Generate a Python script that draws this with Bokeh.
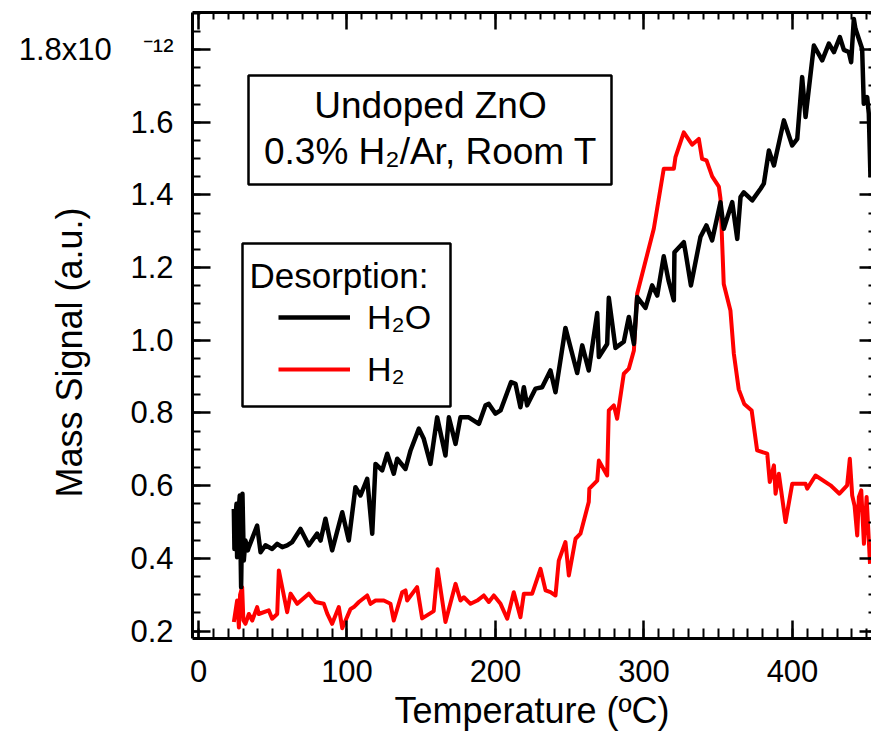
from bokeh.embed import file_html
from bokeh.models import (BoxAnnotation, CustomJSTickFormatter, CustomLabelingPolicy,
                          Label, Legend, LegendItem, LinearAxis, Range1d,
                          SingleIntervalTicker)
from bokeh.plotting import figure
from bokeh.resources import INLINE

# Desorption traces (temperature in degC, mass signal in units of 1e-12)
temp_h2o = [23.8, 24.2, 25.0, 25.6, 26.0, 27.0, 27.8, 28.7, 29.6, 30.5, 31.6, 33.2, 33.9,
            39.5, 41.8, 45.1, 49.6, 53.0, 56.4, 59.7, 63.1, 68.7, 74.3, 79.9, 82.2, 85.5,
            90.0, 96.8, 101.2, 105.7, 109.1, 113.6, 117.0, 119.2, 123.7, 127.1, 131.5,
            133.8, 139.4, 142.8, 148.4, 151.7, 156.2, 160.7, 166.3, 168.6, 173.1, 176.4,
            182.0, 188.8, 193.3, 195.5, 200.0, 203.4, 210.5, 213.5, 216.8, 219.1, 221.3,
            226.9, 231.4, 237.0, 240.4, 247.1, 255.0, 258.4, 262.8, 268.5, 269.6, 275.2,
            276.3, 280.8, 286.4, 289.8, 293.2, 295.4, 301.0, 305.5, 308.9, 313.3, 316.5,
            320.1, 320.5, 326.8, 328.0, 331.6, 338.0, 342.0, 345.9, 351.5, 353.7, 359.4,
            362.8, 365.0, 367.2, 372.9, 378.5, 380.7, 384.1, 387.5, 394.2, 399.8, 403.2,
            406.5, 408.8, 414.4, 420.0, 424.5, 427.9, 431.9, 434.6, 437.9, 439.5, 441.3,
            442.4, 446.9, 448.0, 450.3, 451.4, 452.5]
signal_h2o = [0.536, 0.426, 0.52, 0.550, 0.403, 0.53, 0.573, 0.321, 0.578, 0.394, 0.449, 0.422, 0.431,
              0.490, 0.417, 0.436, 0.426, 0.440, 0.431, 0.436, 0.445, 0.481, 0.436, 0.468, 0.449, 0.509,
              0.422, 0.527, 0.449, 0.596, 0.573, 0.619, 0.468, 0.660, 0.642, 0.688, 0.633,
              0.674, 0.646, 0.697, 0.757, 0.729, 0.660, 0.788, 0.683, 0.788, 0.715, 0.788,
              0.788, 0.770, 0.821, 0.825, 0.798, 0.807, 0.885, 0.880, 0.816, 0.871, 0.821,
              0.867, 0.871, 0.917, 0.857, 1.034, 0.910, 0.986, 0.917, 1.075, 0.954, 0.990,
              1.117, 0.979, 0.996, 1.064, 0.990, 1.119, 1.089, 1.151, 1.123, 1.231, 1.165,
              1.110, 1.242, 1.270, 1.242, 1.151, 1.284, 1.316, 1.275, 1.380, 1.307, 1.380,
              1.279, 1.394, 1.407, 1.385, 1.417, 1.431, 1.522, 1.481, 1.605, 1.536, 1.554,
              1.724, 1.614, 1.811, 1.770, 1.816, 1.793, 1.834, 1.799, 1.793, 1.765, 1.884,
              1.857, 1.802, 1.651, 1.669, 1.623, 1.449]

temp_h2 = [23.8, 26.0, 27.2, 28.0, 29.4, 30.2, 31.6, 33.9, 36.2, 39.5, 40.6, 47.3, 49.6, 53.0,
           54.1, 59.7, 62.0, 66.5, 74.3, 78.8, 84.4, 86.7, 90.0, 94.5, 96.8, 102.4, 104.6,
           108.0, 113.6, 115.8, 119.2, 124.8, 129.3, 131.5, 137.2, 139.4, 140.5, 147.2,
           150.6, 158.4, 161.0, 166.3, 173.1, 176.4, 178.7, 183.2, 187.7, 192.1, 195.5,
           198.9, 203.4, 207.9, 212.3, 216.8, 219.1, 224.7, 230.3, 233.7, 237.0, 240.4,
           242.6, 247.1, 249.4, 253.9, 257.2, 262.8, 263.2, 268.5, 269.6, 275.2, 276.3,
           279.7, 281.9, 286.4, 289.8, 293.2, 295.4, 306.6, 313.3, 320.1, 321.2, 326.8,
           332.4, 336.9, 339.1, 342.1, 345.9, 350.4, 351.5, 353.7, 358.2, 360.5, 363.8,
           367.5, 372.5, 376.2, 383.0, 384.7, 387.5, 388.6, 390.8, 395.3, 399.8, 408.8,
           409.9, 415.5, 425.6, 431.6, 436.8, 438.6, 440.2, 441.8, 443.6, 444.7, 446.3,
           448.1, 449.9, 452.2]
signal_h2 = [0.225, 0.284, 0.21, 0.30, 0.321, 0.23, 0.220, 0.247, 0.229, 0.266, 0.247, 0.257, 0.234, 0.247,
             0.367, 0.252, 0.303, 0.275, 0.303, 0.280, 0.275, 0.248, 0.220, 0.266, 0.208, 0.261, 0.266,
             0.280, 0.298, 0.275, 0.284, 0.284, 0.275, 0.229, 0.307, 0.312, 0.284, 0.321,
             0.235, 0.255, 0.370, 0.225, 0.330, 0.284, 0.293, 0.275, 0.284, 0.298, 0.280,
             0.298, 0.275, 0.234, 0.307, 0.238, 0.303, 0.303, 0.371, 0.312, 0.307, 0.298,
             0.394, 0.445, 0.353, 0.454, 0.468, 0.555, 0.592, 0.614, 0.669, 0.628, 0.807,
             0.821, 0.784, 0.908, 0.922, 0.972, 1.128, 1.307, 1.472, 1.472, 1.504, 1.572,
             1.538, 1.554, 1.499, 1.495, 1.451, 1.423, 1.390, 1.155, 1.082, 0.963, 0.865,
             0.825, 0.807, 0.697, 0.688, 0.610, 0.656, 0.578, 0.633, 0.500, 0.605, 0.605,
             0.592, 0.628, 0.601, 0.578, 0.601, 0.674, 0.573, 0.545, 0.463, 0.569, 0.587,
             0.440, 0.569, 0.385]

FONT = "Liberation Sans"

p = figure(frame_width=679, frame_height=626,
           x_range=Range1d(-4.04, 453.2), y_range=Range1d(0.1796, 1.9018),
           min_border_left=192, min_border_right=0, min_border_top=12, min_border_bottom=94,
           output_backend="svg", toolbar_location=None)
p.xgrid.visible = False
p.ygrid.visible = False
p.outline_line_color = None
p.background_fill_color = "white"
p.border_fill_color = "white"

x_ticker = SingleIntervalTicker(interval=100, num_minor_ticks=10)
y_ticker = SingleIntervalTicker(interval=0.2, num_minor_ticks=4)


def style_axis(ax, major_in, minor_in):
    ax.axis_line_width = 3
    ax.major_tick_line_width = 2.5
    ax.minor_tick_line_width = 2
    ax.major_tick_in = major_in
    ax.major_tick_out = 0
    ax.minor_tick_in = minor_in
    ax.minor_tick_out = 0
    ax.major_label_text_font = FONT
    ax.major_label_text_color = "black"


xa = p.xaxis[0]
xa.ticker = x_ticker
style_axis(xa, 18, 10)
xa.major_label_text_font_size = "31px"
xa.major_label_standoff = 21
xa.axis_label = "Temperature (ºC)"
xa.axis_label_text_font = FONT
xa.axis_label_text_font_size = "36px"
xa.axis_label_text_font_style = "normal"
xa.axis_label_text_color = "black"
xa.axis_label_standoff = 5

ya = p.yaxis[0]
ya.ticker = y_ticker
style_axis(ya, 18, 8)
ya.major_label_text_font_size = "31px"
ya.major_label_standoff = 19
# the top tick carries the 1e-12 scale factor
ya.formatter = CustomJSTickFormatter(
    code="return tick > 1.79 ? '1.8x10\u2003\u207b\u00b9\u00b2' : tick.toFixed(1);")
# trailing em/en spaces shift the rotated title toward the lower end of the axis
ya.axis_label = "Mass Signal (a.u.)\u2003\u2002"
ya.axis_label_text_font = FONT
ya.axis_label_text_font_size = "36px"
ya.axis_label_text_font_style = "normal"
ya.axis_label_text_color = "black"
ya.axis_label_standoff = -74

# tick marks only on the top and right edges of the frame
no_labels = CustomLabelingPolicy(
    code="for (const i of Array.from(indices)) { indices.unset(i) } return indices;")
blank = CustomJSTickFormatter(code="return '';")

top_axis = LinearAxis(ticker=x_ticker, formatter=blank, major_label_policy=no_labels,
                      major_label_text_font_size="1px", major_label_standoff=0)
style_axis(top_axis, 17, 7)
p.add_layout(top_axis, "above")

right_axis = LinearAxis(ticker=y_ticker, formatter=blank, major_label_policy=no_labels,
                        major_label_text_font_size="1px", major_label_standoff=0)
style_axis(right_axis, 12, 3)
right_axis.axis_line_color = None
p.add_layout(right_axis, "right")

r_h2 = p.line(temp_h2, signal_h2, line_color="#ff0000", line_width=4, line_join="round")
r_h2o = p.line(temp_h2o, signal_h2o, line_color="black", line_width=4.5, line_join="round")

# sample / conditions note
p.add_layout(BoxAnnotation(left=56, right=419, top=563, bottom=454,
                           left_units="screen", right_units="screen",
                           top_units="screen", bottom_units="screen",
                           fill_color="white", fill_alpha=1.0,
                           line_color="black", line_alpha=1.0, line_width=2.5))
p.add_layout(Label(x=238, y=533, x_units="screen", y_units="screen", text="Undoped ZnO",
                   text_font=FONT, text_font_size="37px", text_color="black",
                   text_align="center", text_baseline="middle"))
p.add_layout(Label(x=238, y=487, x_units="screen", y_units="screen",
                   text="0.3% H\u2082/Ar, Room T",
                   text_font=FONT, text_font_size="37px", text_color="black",
                   text_align="center", text_baseline="middle"))

# legend frame and heading
p.add_layout(BoxAnnotation(left=50, right=258, top=395, bottom=232,
                           left_units="screen", right_units="screen",
                           top_units="screen", bottom_units="screen",
                           fill_color="white", fill_alpha=1.0,
                           line_color="black", line_alpha=1.0, line_width=2.5))
p.add_layout(Label(x=57, y=363, x_units="screen", y_units="screen", text="Desorption:",
                   text_font=FONT, text_font_size="35px", text_color="black",
                   text_align="left", text_baseline="middle"))

legend = Legend(items=[LegendItem(label="H\u2082O", renderers=[r_h2o]),
                       LegendItem(label="H\u2082", renderers=[r_h2])],
                location=(86, 249), padding=0, margin=0, spacing=12,
                glyph_width=72, glyph_height=40, label_height=40, label_standoff=17,
                label_text_font=FONT, label_text_font_size="34px",
                label_text_color="black",
                border_line_color=None, background_fill_alpha=0.0)
p.add_layout(legend)

open("out.html", "w").write(file_html(p, INLINE))
